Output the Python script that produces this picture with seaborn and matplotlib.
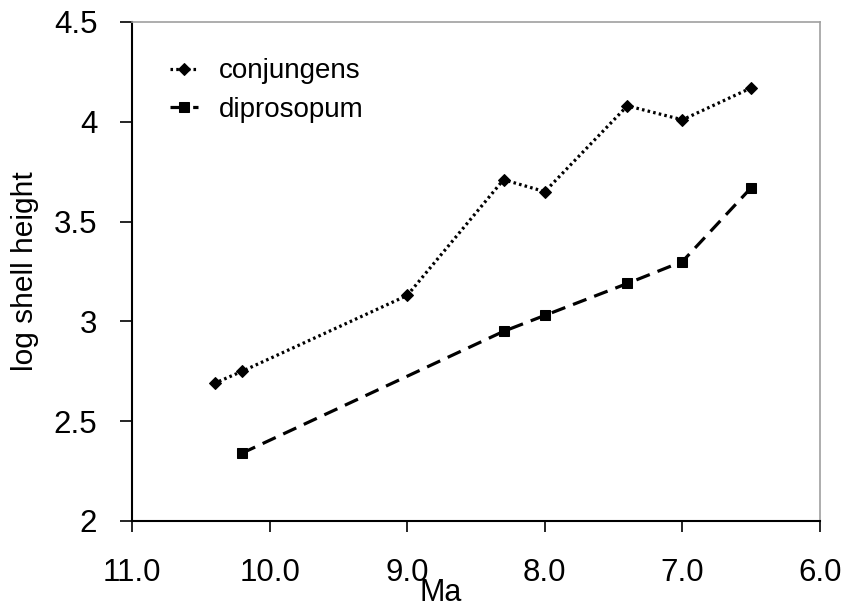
import matplotlib
matplotlib.use("Agg")
import matplotlib.pyplot as plt
import seaborn as sns
import pandas as pd

# ---- data ----
conj_ma = [10.4, 10.2, 9.0, 8.3, 8.0, 7.4, 7.0, 6.5]
conj_h = [2.69, 2.75, 3.13, 3.71, 3.65, 4.08, 4.01, 4.17]
dipr_ma = [10.2, 8.3, 8.0, 7.4, 7.0, 6.5]
dipr_h = [2.34, 2.95, 3.03, 3.19, 3.30, 3.67]
series_names = ["conjungens", "diprosopum"]
x_ticks = [11.0, 10.0, 9.0, 8.0, 7.0, 6.0]
x_tick_labels = ["11.0", "10.0", "9.0", "8.0", "7.0", "6.0"]
y_ticks = [2, 2.5, 3, 3.5, 4, 4.5]
y_tick_labels = ["2", "2.5", "3", "3.5", "4", "4.5"]
x_label = "Ma"
y_label = "log shell height"

df = pd.DataFrame({
    "Ma": conj_ma + dipr_ma,
    "h": conj_h + dipr_h,
    "species": [series_names[0]] * len(conj_ma) + [series_names[1]] * len(dipr_ma),
})

sns.set_style("white")
plt.rcParams["font.family"] = ["Liberation Sans", "DejaVu Sans"]
plt.rcParams["text.color"] = "black"
plt.rcParams["axes.labelcolor"] = "black"
plt.rcParams["xtick.color"] = "black"
plt.rcParams["ytick.color"] = "black"

fig = plt.figure(figsize=(8.44, 6.09), dpi=100)
ax = fig.add_axes([0.1564, 0.1445, 0.8152, 0.8194])

sns.lineplot(
    data=df, x="Ma", y="h", style="species",
    markers={"conjungens": "D", "diprosopum": "s"},
    dashes={"conjungens": (0.8, 1.0), "diprosopum": (4.5, 2.6)},
    color="black", linewidth=2.3, markersize=6.5, markeredgecolor="black",
    ax=ax, legend=True,
)
for line in ax.lines:
    if line.get_marker() == "s":
        line.set_markersize(7.5)

ax.set_xlim(11.0, 6.0)
ax.set_ylim(2, 4.5)
ax.set_xticks(x_ticks)
ax.set_xticklabels(x_tick_labels, fontsize=22.5)
ax.set_yticks(y_ticks)
ax.set_yticklabels(y_tick_labels, fontsize=22.5)

ax.tick_params(axis="x", direction="out", length=8, width=1.2, pad=19, color="black", bottom=True)
ax.tick_params(axis="y", direction="out", length=9, width=1.2, pad=16, color="black", left=True)

for s in ["left", "bottom"]:
    ax.spines[s].set_color("black")
    ax.spines[s].set_linewidth(1.5)
for s in ["top", "right"]:
    ax.spines[s].set_color("#a0a0a0")
    ax.spines[s].set_linewidth(1.2)

ax.set_xlabel(x_label, fontsize=22)
ax.set_ylabel(y_label, fontsize=21.5)
ax.xaxis.set_label_coords(0.449, -0.114)
ax.yaxis.set_label_coords(-0.135, 0.5)

handles, labels = ax.get_legend_handles_labels()
pairs = [(h, l) for h, l in zip(handles, labels) if l in series_names]
leg = ax.legend(
    [p[0] for p in pairs], [p[1] for p in pairs],
    loc="upper left", bbox_to_anchor=(0.055, 0.927), frameon=False,
    fontsize=20, handlelength=1.0, handletextpad=0.75, labelspacing=0.45,
    borderpad=0, borderaxespad=0,
)

fig.savefig("out.png", dpi=100)
